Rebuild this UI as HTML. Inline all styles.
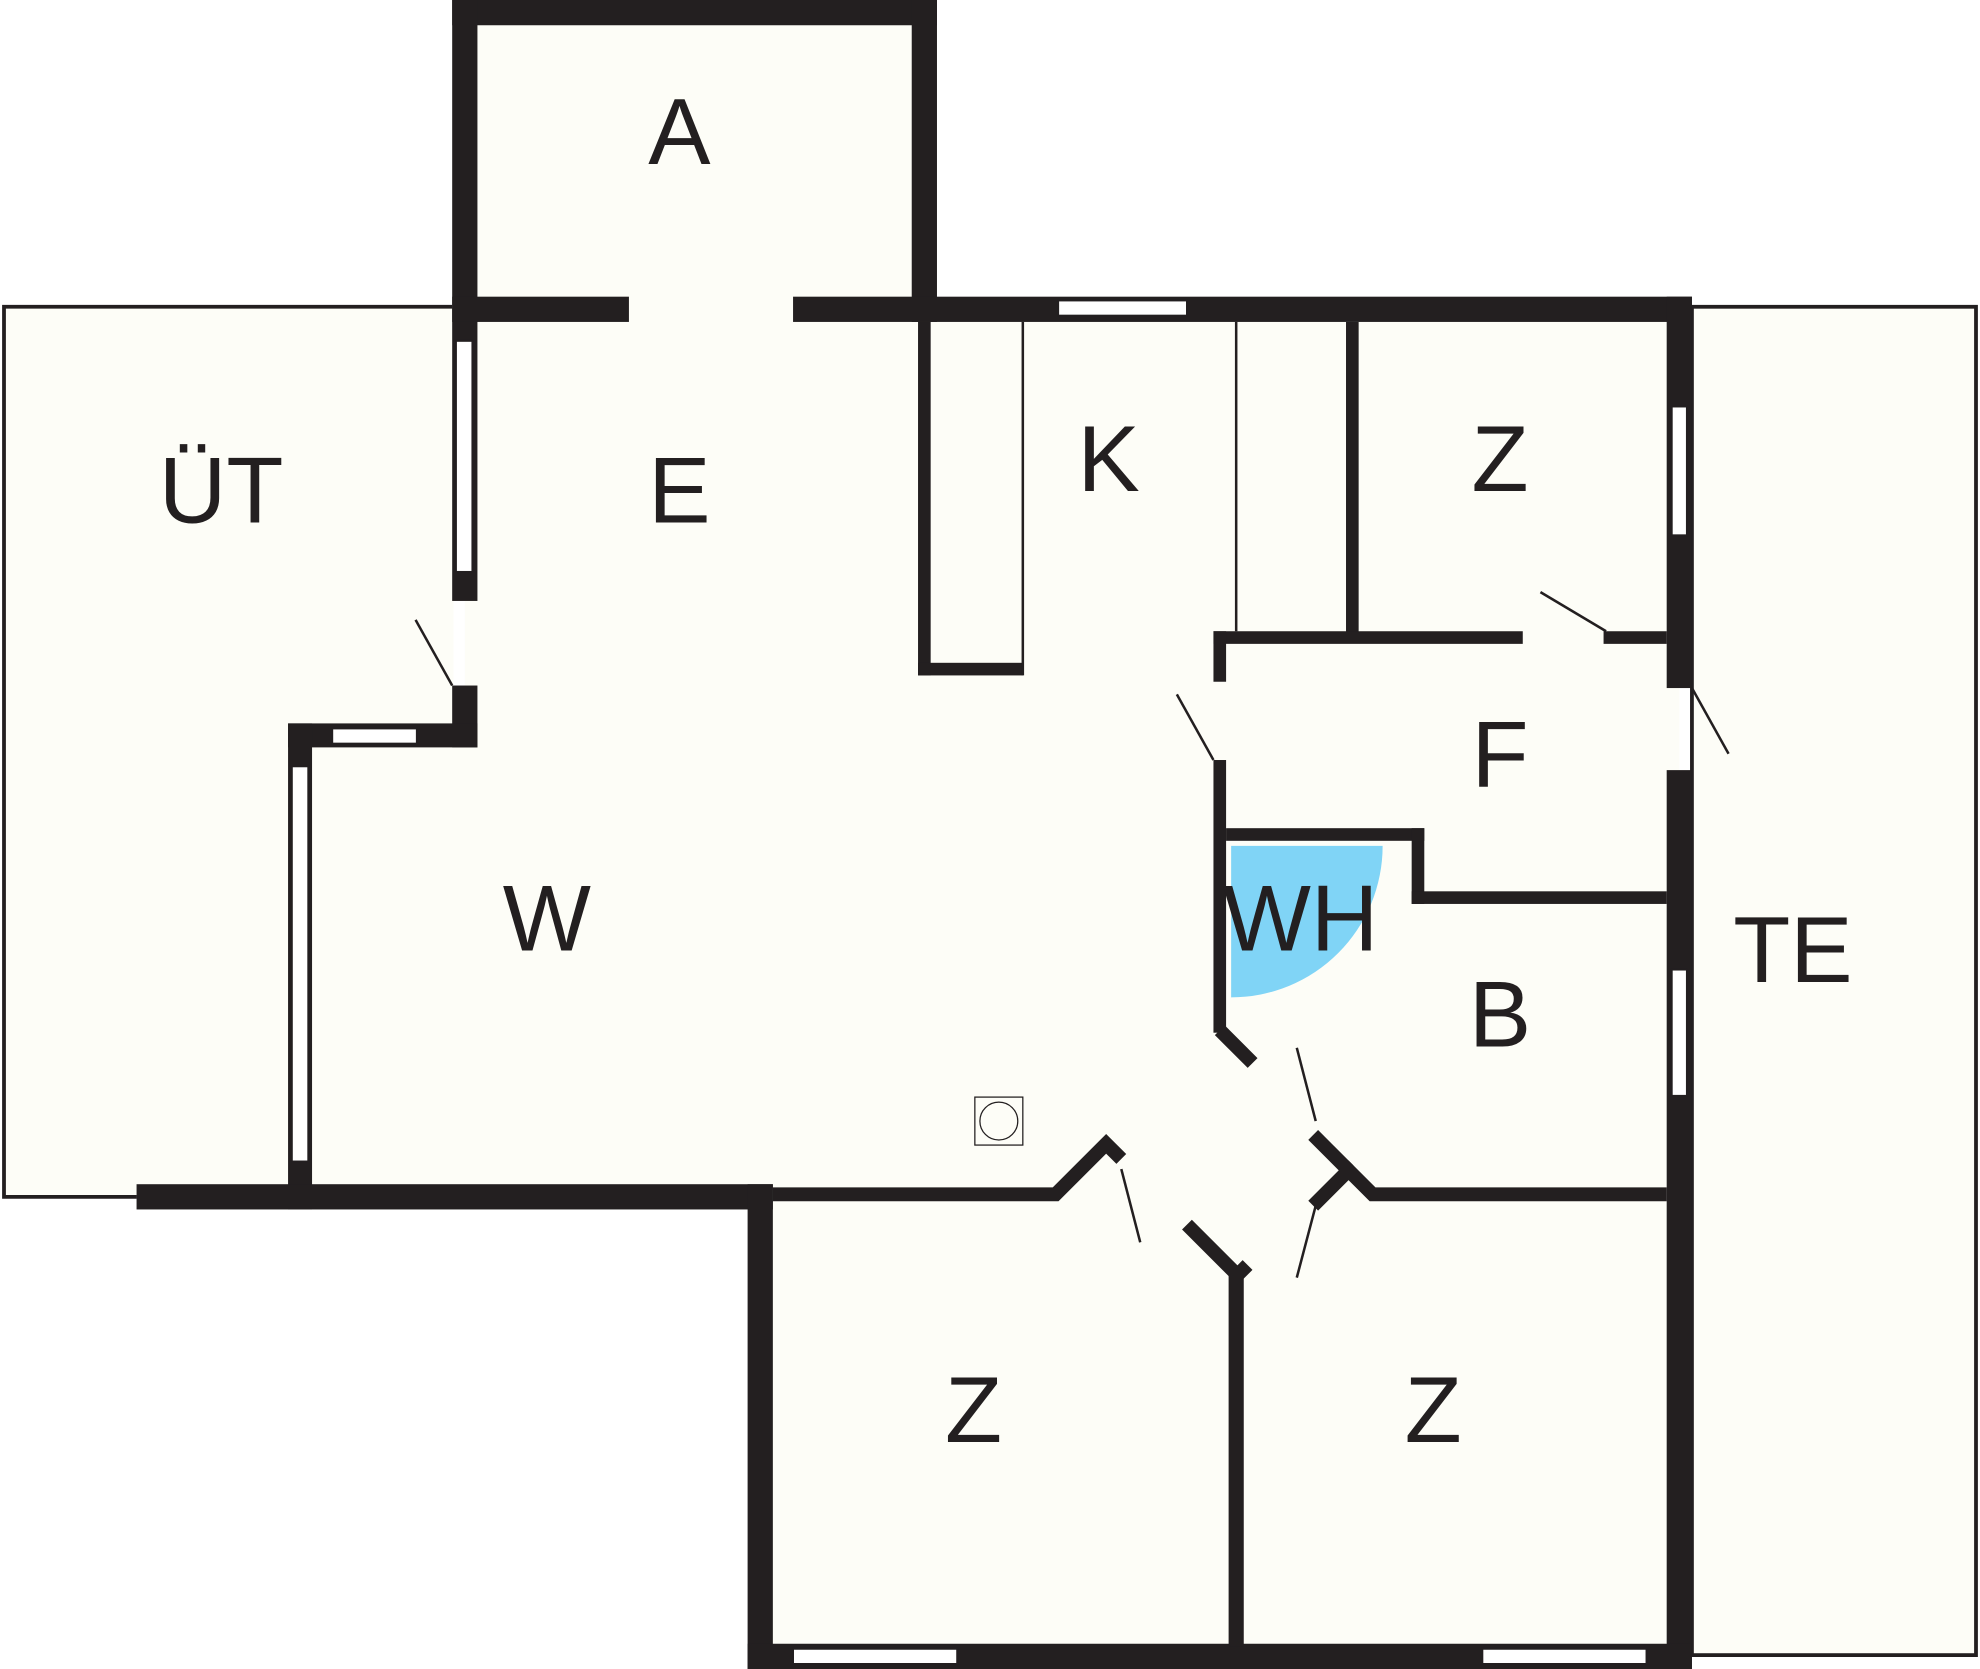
<!DOCTYPE html>
<html><head><meta charset="utf-8"><style>
html,body{margin:0;padding:0;background:#fff}
svg{display:block}
text{font-family:"Liberation Sans",sans-serif;font-size:74px;fill:#231f20;text-anchor:middle}
</style></head><body>
<svg width="1980" height="1669" viewBox="0 0 1568 1322" xmlns="http://www.w3.org/2000/svg">
<g fill="#fdfdf7">
<rect x="3" y="243" width="356" height="705"/>
<rect x="1340" y="243" width="225" height="1068"/>
<polygon points="368,10 732,10 732,245 1330,245 1330,1312 602,1312 602,948 237,948 237,582 368,582"/>
</g>
<g fill="none" stroke="#231f20" stroke-width="3">
<polyline points="358,243 3,243 3,948 108,948"/>
<rect x="1340" y="243" width="225" height="1068"/>
</g>
<path d="M975,670 L1095,670 A120,120 0 0 1 975,790 Z" fill="#80d4f6"/>
<g fill="#231f20">
<rect x="358" y="0" width="384" height="20"/>
<rect x="358" y="0" width="20" height="476"/>
<rect x="722" y="0" width="20" height="255"/>
<rect x="358" y="235" width="140" height="20"/>
<rect x="628" y="235" width="712" height="20"/>
<rect x="1320" y="235" width="20" height="310"/>
<rect x="1320" y="610" width="20" height="712"/>
<rect x="358" y="543" width="20" height="49"/>
<rect x="228" y="573" width="150" height="19"/>
<rect x="228" y="573" width="19" height="385"/>
<rect x="108" y="938" width="504" height="20"/>
<rect x="592" y="938" width="20" height="384"/>
<rect x="592" y="1302" width="748" height="20"/>
<rect x="727" y="255" width="10" height="280"/>
<rect x="727" y="525" width="83" height="10"/>
<rect x="1066" y="255" width="10" height="250"/>
<rect x="961" y="500" width="245" height="10"/>
<rect x="1270" y="500" width="50" height="10"/>
<rect x="961" y="500" width="10" height="40"/>
<rect x="961" y="602" width="10" height="216"/>
<rect x="971" y="656" width="157" height="10"/>
<rect x="1118" y="656" width="10" height="60"/>
<rect x="1118" y="706" width="202" height="10"/>
<rect x="973" y="1006" width="12" height="298"/>
</g>
<g fill="none" stroke="#231f20" stroke-width="11" stroke-linecap="butt">
<polyline points="612,946 836,946 876,906 888,918"/>
<polyline points="940,970 980,1010 988,1002"/>
<polyline points="1040,955 1068,927 1087,946 1320,946"/>
<polyline points="1068,927 1040,899"/>
<polyline points="966,816 992,842"/>
</g>
<g stroke="#231f20" stroke-width="2" fill="none">
<line x1="810" y1="255" x2="810" y2="535"/>
<line x1="979" y1="255" x2="979" y2="500"/>
<line x1="329" y1="491" x2="358" y2="543"/>
<line x1="932" y1="550" x2="961" y2="602"/>
<line x1="1340" y1="545" x2="1369" y2="597"/>
<line x1="1220" y1="469" x2="1272" y2="500"/>
<line x1="1027" y1="830" x2="1042" y2="888"/>
<line x1="888" y1="926" x2="903" y2="984"/>
<line x1="1027" y1="1012" x2="1042" y2="955"/>
<rect x="772" y="869" width="38" height="38" stroke-width="1"/>
<circle cx="791" cy="888" r="15" stroke-width="1"/>
</g>
<g fill="#fff" stroke="#231f20" stroke-width="1.5">
<rect x="838" y="238" width="102" height="12"/>
<rect x="1324" y="322" width="12" height="102"/>
<rect x="1324" y="768" width="12" height="100"/>
<rect x="361" y="270" width="13" height="183"/>
<rect x="263" y="577" width="67" height="12"/>
<rect x="231" y="607" width="13" height="313"/>
<rect x="628" y="1306" width="130" height="12"/>
<rect x="1174" y="1306" width="130" height="12"/>
</g>
<text x="538" y="130">A</text>
<text x="538" y="414">E</text>
<text x="175" y="414">ÜT</text>
<text x="878" y="389">K</text>
<text x="1188" y="389">Z</text>
<text x="1188" y="623">F</text>
<text x="1030" y="753">WH</text>
<text x="1188" y="829">B</text>
<text x="1420" y="778">TE</text>
<text x="433" y="753">W</text>
<text x="771" y="1142">Z</text>
<text x="1135" y="1142">Z</text>
</svg>
</body></html>
